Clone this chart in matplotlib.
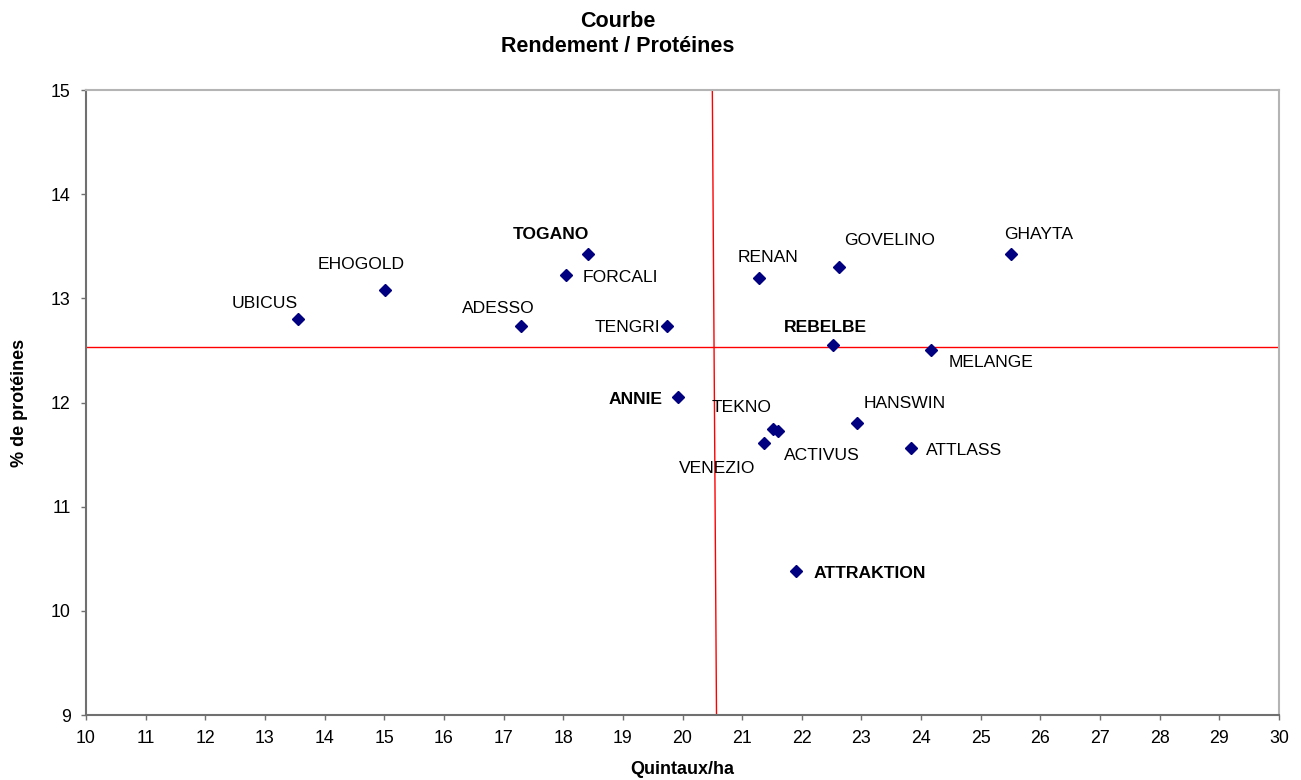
import matplotlib
matplotlib.use("Agg")
import matplotlib.pyplot as plt

plt.rcParams['font.family'] = ['Liberation Sans', 'DejaVu Sans']

# varietes : rendement (q/ha) et % de proteines
varietes = ["UBICUS", "EHOGOLD", "ADESSO", "FORCALI", "TOGANO", "TENGRI", "ANNIE",
            "RENAN", "GOVELINO", "GHAYTA", "REBELBE", "MELANGE", "TEKNO", "ACTIVUS",
            "VENEZIO", "HANSWIN", "ATTLASS", "ATTRAKTION"]
rendement = [13.55, 15.02, 17.29, 18.04, 18.42, 19.74, 19.93,
             21.29, 22.63, 25.50, 22.52, 24.17, 21.51, 21.60,
             21.37, 22.92, 23.83, 21.91]
proteines = [12.80, 13.08, 12.73, 13.22, 13.43, 12.73, 12.05,
             13.20, 13.30, 13.43, 12.55, 12.50, 11.75, 11.73,
             11.61, 11.80, 11.56, 10.38]
en_gras = ["TOGANO", "ANNIE", "REBELBE", "ATTRAKTION"]

# moyennes (lignes rouges)
moy_x = [20.50, 20.57]
moy_x_y = [15, 9]
moy_y_x = [10, 30]
moy_y = [12.53, 12.53]

# decalage des etiquettes en pixels (dx, dy, alignement)
etiq = {
    "UBICUS": (0, 16, 'right'),
    "EHOGOLD": (-24, 26, 'center'),
    "ADESSO": (-23, 18, 'center'),
    "FORCALI": (17, -2, 'left'),
    "TOGANO": (1, 19, 'right'),
    "TENGRI": (-7, -1, 'right'),
    "ANNIE": (-16, -2, 'right'),
    "RENAN": (9, 20, 'center'),
    "GOVELINO": (5, 27, 'left'),
    "GHAYTA": (-6, 19, 'left'),
    "REBELBE": (-7, 18, 'center'),
    "MELANGE": (17, -12, 'left'),
    "TEKNO": (-1, 21, 'right'),
    "ACTIVUS": (6, -25, 'left'),
    "VENEZIO": (-9, -25, 'right'),
    "HANSWIN": (7, 20, 'left'),
    "ATTLASS": (15, -2, 'left'),
    "ATTRAKTION": (17, -2, 'left'),
}

fig = plt.figure(figsize=(13.01, 7.80), dpi=100)
ax = fig.add_axes([0.0661, 0.0833, 0.9170, 0.8013])

ax.plot(moy_x, moy_x_y, color='red', lw=1)
ax.plot(moy_y_x, moy_y, color='red', lw=1)
ax.plot(rendement, proteines, linestyle='none', marker='D', markersize=6,
        color='#000080', zorder=3)

for nom, x, y in zip(varietes, rendement, proteines):
    dx, dy, ha = etiq[nom]
    ax.annotate(nom, (x, y), xytext=(dx, dy), textcoords='offset pixels',
                ha=ha, va='center', fontsize=12.6,
                fontweight='bold' if nom in en_gras else 'normal', color='black')

ax.set_xlim(10, 30)
ax.set_ylim(9, 15)
ax.set_xticks(range(10, 31))
ax.set_yticks(range(9, 16))
ax.tick_params(direction='out', length=3.6, width=1, pad=7.5, labelsize=12.8,
               color='#707070')

for s in ['left', 'bottom']:
    ax.spines[s].set_color('#707070')
    ax.spines[s].set_linewidth(1.5)
for s in ['top', 'right']:
    ax.spines[s].set_color('#b4b4b4')
    ax.spines[s].set_linewidth(1.5)

ax.set_xlabel('Quintaux/ha', fontsize=13, fontweight='bold', labelpad=10)
ax.set_ylabel('% de protéines', fontsize=13, fontweight='bold', labelpad=16)

fig.text(0.475, 1 - 21.7 / 780, 'Courbe', ha='center', va='center',
         fontsize=15.5, fontweight='bold')
fig.text(0.475, 1 - 46.7 / 780, 'Rendement / Protéines', ha='center', va='center',
         fontsize=15.5, fontweight='bold')

fig.savefig('out.png', dpi=100)
